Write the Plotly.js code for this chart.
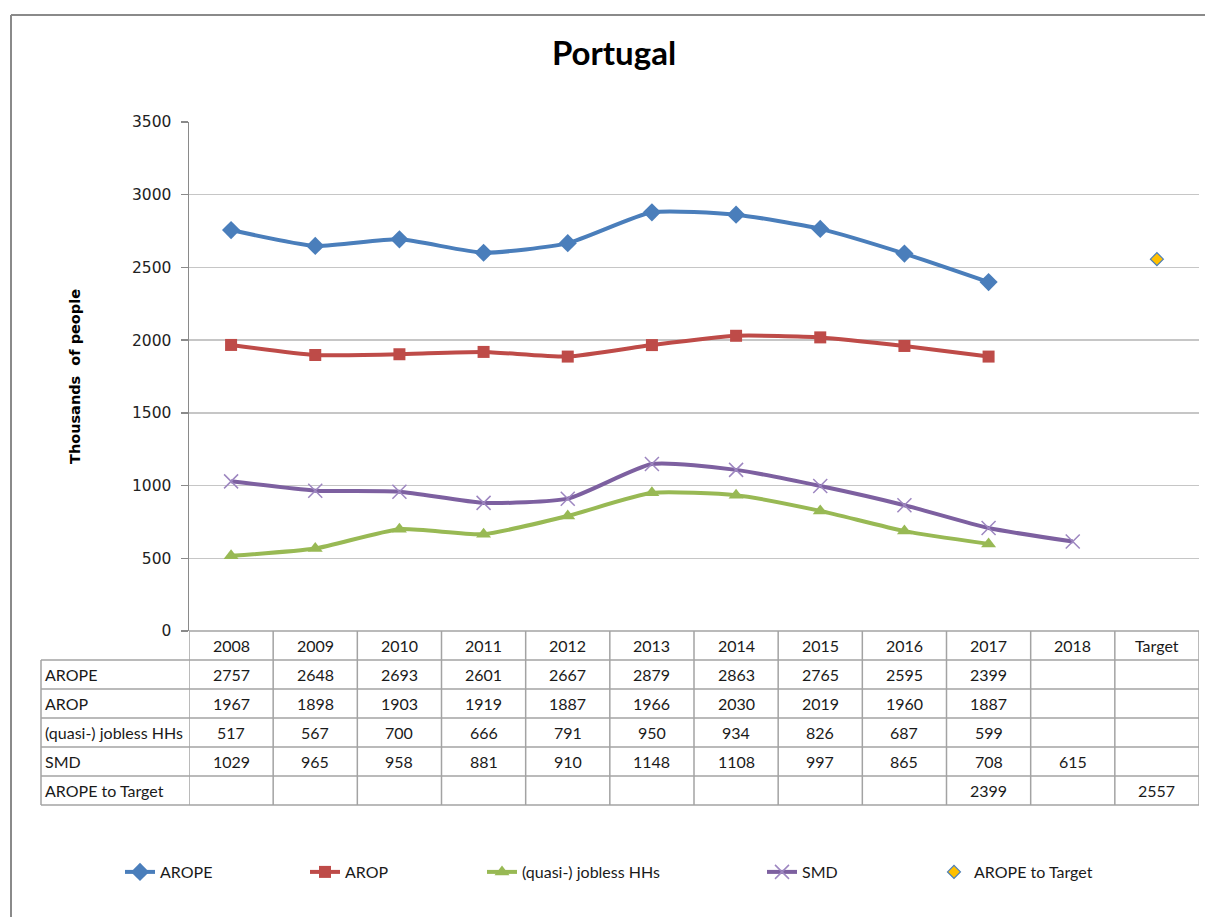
<!DOCTYPE html>
<html>
<head>
<meta charset="utf-8">
<script src="https://cdn.plot.ly/plotly-3.0.1.min.js"></script>
<style>
html,body{margin:0;padding:0;background:#fff;}
#chart{width:1205px;height:917px;}
</style>
</head>
<body>
<div id="chart"></div>
<script>
// ---- data ----
const years = ['2008','2009','2010','2011','2012','2013','2014','2015','2016','2017','2018','Target'];
const arope = [2757,2648,2693,2601,2667,2879,2863,2765,2595,2399,null,null];
const arop = [1967,1898,1903,1919,1887,1966,2030,2019,1960,1887,null,null];
const jobless = [517,567,700,666,791,950,934,826,687,599,null,null];
const smd = [1029,965,958,881,910,1148,1108,997,865,708,615,null];
const aropeToTarget = [null,null,null,null,null,null,null,null,null,2399,null,2557];
const seriesNames = ['AROPE','AROP','(quasi-) jobless HHs','SMD','AROPE to Target'];
const chartTitle = 'Portugal';
const yAxisTitle = 'Thousands  of people';
const yTickVals = [0,500,1000,1500,2000,2500,3000,3500];

// ---- geometry helpers (pixel -> paper) ----
const L = 189, R = 6, T = 122, B = 286, W = 1205, H = 917;
const PW = W - L - R, PH = H - T - B;
const px = p => (p - L) / PW;
const py = p => (H - B - p) / PH;

const colors = ['#4A7EBB','#BE4B48','#98B954','#7D60A0','#FFC000'];
const lineFont = {family:'Lato, "Open Sans", sans-serif', size:16, color:'#1a1a1a'};
const SM = 0.55;

const traces = [];
// AROPE to Target drawn first (under)
traces.push({
  x: years, y: aropeToTarget, name: seriesNames[4], type:'scatter', mode:'markers',
  marker:{symbol:'diamond', size:10, color:'#FFC000', line:{color:'#4A7EBB', width:1.2}},
  legend:'legend5'
});
traces.push({
  x: years, y: arope, name: seriesNames[0], type:'scatter', mode:'lines+markers',
  line:{color:colors[0], width:4, shape:'spline', smoothing:SM},
  marker:{symbol:'diamond', size:14, color:colors[0]},
  legend:'legend'
});
traces.push({
  x: years, y: arop, name: seriesNames[1], type:'scatter', mode:'lines+markers',
  line:{color:colors[1], width:4, shape:'spline', smoothing:SM},
  marker:{symbol:'square', size:12, color:colors[1]},
  legend:'legend2'
});
traces.push({
  x: years, y: jobless, name: seriesNames[2], type:'scatter', mode:'lines+markers',
  line:{color:colors[2], width:4, shape:'spline', smoothing:SM},
  marker:{symbol:'triangle-up', size:13, color:colors[2]},
  legend:'legend3'
});
traces.push({
  x: years, y: smd, name: seriesNames[3], type:'scatter', mode:'lines+markers',
  line:{color:colors[3], width:4, shape:'spline', smoothing:SM},
  marker:{symbol:'x-thin', size:14, color:'#9d86c0', line:{color:'#9d86c0', width:1.5}},
  legend:'legend4'
});

// ---- table ----
const gridCol = '#a3a3a3';
const shapes = [];
const rowY = [631, 660, 689, 718, 747, 776, 805];
// outer chart border (left + top)
shapes.push({type:'line', xref:'paper', yref:'paper', x0:px(11), x1:px(1230), y0:py(15), y1:py(15), line:{color:'#8a8a8a', width:2}});
shapes.push({type:'line', xref:'paper', yref:'paper', x0:px(11), x1:px(11), y0:py(15), y1:py(940), line:{color:'#8a8a8a', width:2}});
// table horizontals
shapes.push({type:'line', xref:'x', yref:'paper', x0:-0.5, x1:years.length-0.5, y0:py(rowY[0]), y1:py(rowY[0]), line:{color:gridCol, width:1.5}});
for (let i=1;i<rowY.length;i++){
  shapes.push({type:'line', xref:'paper', yref:'paper', x0:px(41), x1:1, y0:py(rowY[i]), y1:py(rowY[i]), line:{color:gridCol, width:1.5}});
}
// label column left border
shapes.push({type:'line', xref:'paper', yref:'paper', x0:px(41), x1:px(41), y0:py(rowY[1]), y1:py(rowY[6]), line:{color:gridCol, width:1.5}});
// column borders
for (let k=0;k<=years.length;k++){
  shapes.push({type:'line', xref:'x', yref:'paper', x0:k-0.5, x1:k-0.5, y0:py(rowY[0]), y1:py(rowY[6]), line:{color:gridCol, width:1.5}});
}

const annotations = [];
const tFont = {family:'Lato, "Open Sans", sans-serif', size:16, color:'#1a1a1a'};
// header
years.forEach((yr, j) => {
  annotations.push({xref:'x', yref:'paper', x:j, y:py((rowY[0]+rowY[1])/2), text:yr, showarrow:false, font:tFont, xanchor:'center', yanchor:'middle'});
});
const rowOrder = [arope, arop, jobless, smd, aropeToTarget];
rowOrder.forEach((vals, i) => {
  const yc = py((rowY[i+1]+rowY[i+2])/2);
  annotations.push({xref:'paper', yref:'paper', x:px(43), y:yc, text:seriesNames[i], showarrow:false, font:tFont, xanchor:'left', yanchor:'middle'});
  vals.forEach((v, j) => {
    if (v !== null) annotations.push({xref:'x', yref:'paper', x:j, y:yc, text:String(v), showarrow:false, font:tFont, xanchor:'center', yanchor:'middle'});
  });
});

// ---- legends (one per series, Excel-like spacing) ----
const legY = py(872);
const legBase = {orientation:'h', yanchor:'middle', xanchor:'left', y:legY, bgcolor:'rgba(0,0,0,0)', font:lineFont};
const layout = {
  width:W, height:H,
  margin:{l:L, r:R, t:T, b:B, pad:0},
  paper_bgcolor:'#ffffff', plot_bgcolor:'#ffffff',
  title:{text:chartTitle, xref:'container', x:614/W, xanchor:'center', yref:'container', y:1-53/H, yanchor:'middle', font:{family:'Lato, "Open Sans", sans-serif', size:33, color:'#000', weight:'bold'}},
  xaxis:{type:'category', range:[-0.5, years.length-0.5], showticklabels:false, showgrid:false, zeroline:false, showline:false, ticks:'', fixedrange:true},
  yaxis:{range:[0,3500], tickvals:yTickVals, ticks:'outside', ticklen:7, tickcolor:'#8a8a8a', tickwidth:1.5,
    showline:true, linecolor:'#8a8a8a', linewidth:1.5, gridcolor:'#c6c6c6', gridwidth:1.5, zeroline:false,
    tickfont:{family:'"DejaVu Sans", Verdana, sans-serif', size:15.5, color:'#222'}, ticklabelstandoff:6,
    title:{text:yAxisTitle, standoff:48, font:{family:'"DejaVu Sans", Verdana, sans-serif', size:14.5, color:'#000', weight:'bold'}}, fixedrange:true},
  showlegend:true,
  legend: Object.assign({}, legBase, {x:px(120)}),
  legend2: Object.assign({}, legBase, {x:px(305)}),
  legend3: Object.assign({}, legBase, {x:px(482)}),
  legend4: Object.assign({}, legBase, {x:px(762)}),
  legend5: Object.assign({}, legBase, {x:px(934)}),
  shapes: shapes,
  annotations: annotations
};

Plotly.newPlot('chart', traces, layout, {displayModeBar:false, staticPlot:true});
</script>
</body>
</html>
